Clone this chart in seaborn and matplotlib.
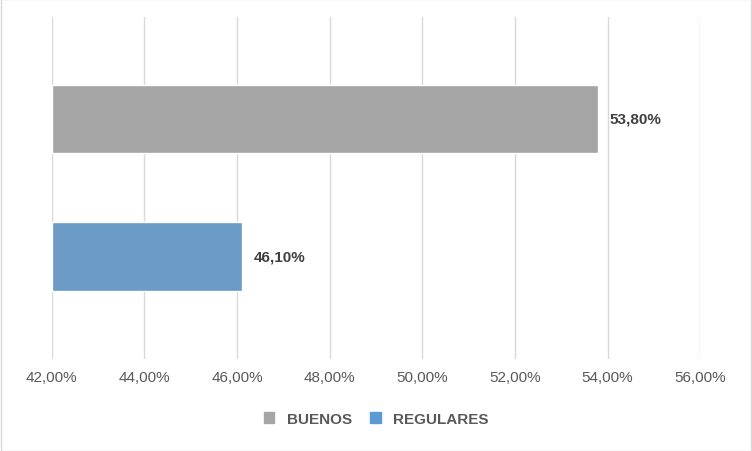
import matplotlib
matplotlib.use("Agg")
import matplotlib.pyplot as plt
import seaborn as sns
import pandas as pd
from matplotlib.patches import Patch

categories = ["BUENOS", "REGULARES"]
values = [53.8, 46.1]
colors = ["#A5A5A5", "#5B9BD5"]
ticks = [42, 44, 46, 48, 50, 52, 54, 56]

sns.set_style("white")
plt.rcParams['font.family'] = ['Liberation Sans', 'DejaVu Sans']

df = pd.DataFrame({"cat": categories, "val": values})
fig = plt.figure(figsize=(7.52, 4.52), dpi=100)
ax = fig.add_axes([0.069, 0.204, 0.862, 0.756])
sns.barplot(data=df, x="val", y="cat", hue="cat", palette=colors, orient="h",
            width=0.5, ax=ax, legend=False, left=42)
# barplot with left: adjust widths so bars start at 42
for p, v in zip(ax.patches, values):
    p.set_x(42)
    p.set_width(v - 42)
ax.set_xlim(42, 56)
ax.set_ylim(1.739, -0.739)
ax.set_xticks(ticks)
ax.set_xticklabels([f"{t:.2f}%".replace(".", ",") for t in ticks], color="#595959", fontsize=11)
ax.set_yticks([])
ax.set_xlabel(""); ax.set_ylabel("")
ax.grid(axis="x", color="#D9D9D9", linewidth=1)
ax.set_axisbelow(True)
for s in ax.spines.values():
    s.set_visible(False)
ax.tick_params(axis="x", length=0, pad=8)
for i, v in enumerate(values):
    ax.text(v + 0.25, i, f"{v:.2f}%".replace(".", ","), va="center", ha="left",
            fontsize=11, fontweight="bold", color="#404040")
handles = [Patch(color=c, label=l) for c, l in zip(colors, categories)]
fig.legend(handles=handles, loc="center", bbox_to_anchor=(0.5, 0.071), ncol=2,
           frameon=False, handlelength=0.7, handleheight=0.7, columnspacing=1.2,
           prop={"weight": "bold", "size": 11}, labelcolor="#595959")
fig.patches.append(plt.Rectangle((0.001, 0.001), 0.998, 0.998, transform=fig.transFigure,
                                 fill=False, edgecolor="#D9D9D9", linewidth=1))
fig.savefig("out.png", dpi=100)
